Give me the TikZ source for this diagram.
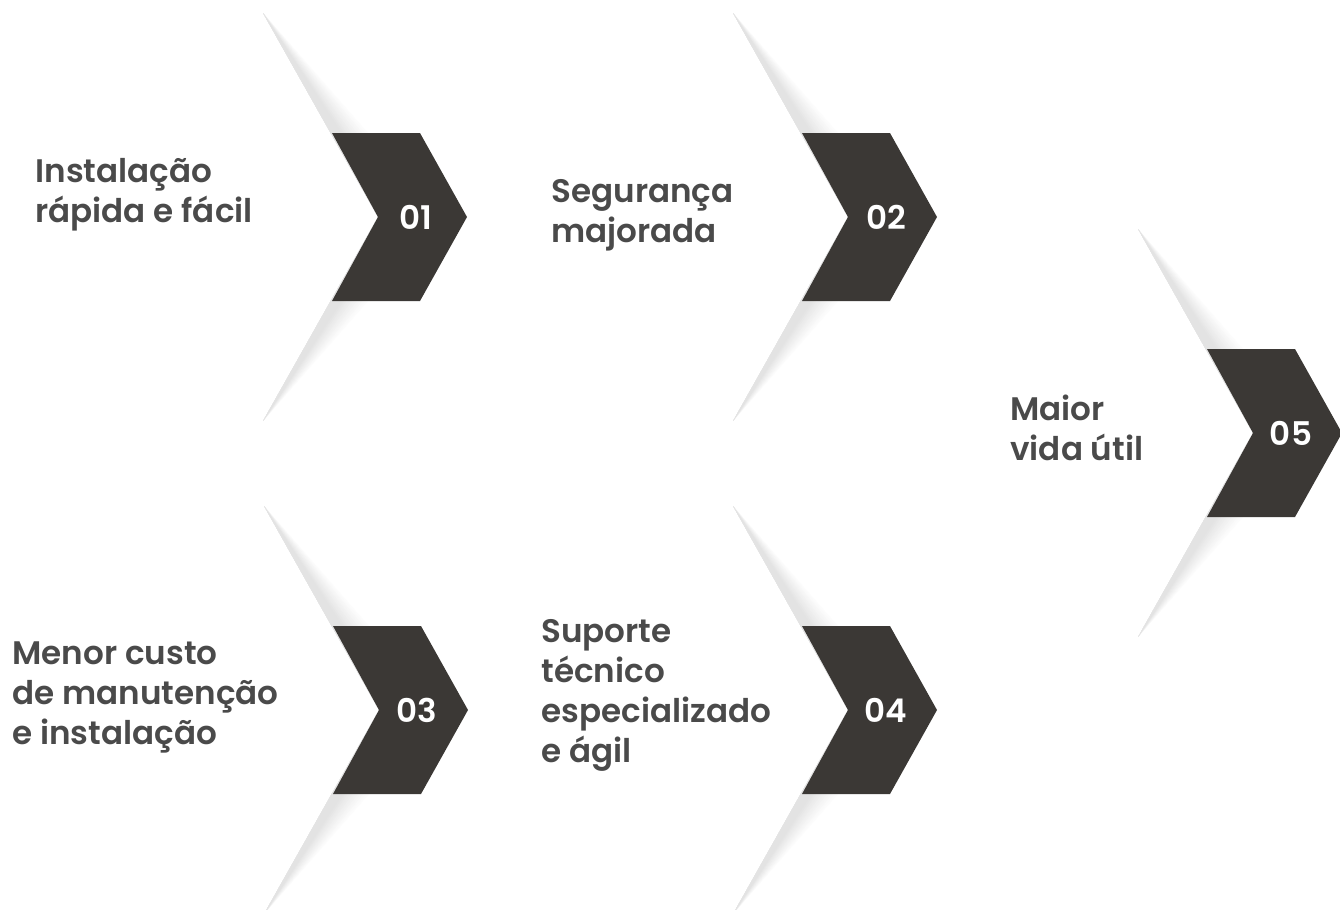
\documentclass[tikz,border=0pt]{standalone}
\usepackage{fontspec}
\newfontfamily\labelfont{Poppins}[UprightFont=* SemiBold]
\usetikzlibrary{positioning}

\definecolor{chevdark}{HTML}{3B3835}
\definecolor{textgray}{HTML}{4A4A4A}

\tikzset{
  itemtext/.style={anchor=west, align=left, inner sep=0pt, text=textgray,
    font=\labelfont\fontsize{16.3}{20}\selectfont},
  numlabel/.style={inner sep=0pt, text=white, font=\labelfont\fontsize{16.3}{18}\selectfont},
  chevbody/.style={fill=chevdark},
  chevron/.pic={
    % soft grey wedges above and below the body
    \foreach \s in {1,-1}
      \foreach \i [evaluate=\i as \shadeval using 8+5*\i,
                   evaluate=\i as \wd using 52-3.3*\i] in {0,...,11}
        \fill[yscale=\s, rotate=29.4, black!\shadeval]
          (0,0) -- (0,234) -- (\wd,0) -- cycle;
    \fill[chevbody] (0,0) -- (-46,84) -- (42,84) -- (89,0) -- (42,-84) -- (-46,-84) -- cycle;
    \node[numlabel] (-num) at (38,0) {#1};
  }
}

\begin{document}
\begin{tikzpicture}[x=0.5pt, y=0.5pt]
  \useasboundingbox (0,0) rectangle (1340,-910);

  \path (378,-217) pic (c1) {chevron=01};
  \path (848,-217) pic (c2) {chevron=02};
  \path (379,-710) pic (c3) {chevron=03};
  \path (848,-710) pic (c4) {chevron=04};
  \path (1253,-433) pic (c5) {chevron=05};

  \node[itemtext] (t1) at (35,-195) {Instalação\\rápida e fácil};
  \node[itemtext] (t2) at (551,-215) {Segurança\\majorada};
  \node[itemtext] (t3) at (12,-697) {Menor custo\\de manutenção\\e instalação};
  \node[itemtext] (t4) at (541,-695) {Suporte\\técnico\\especializado\\e ágil};
  \node[itemtext] (t5) at (1010,-428) {Maior\\vida útil};
\end{tikzpicture}
\end{document}
